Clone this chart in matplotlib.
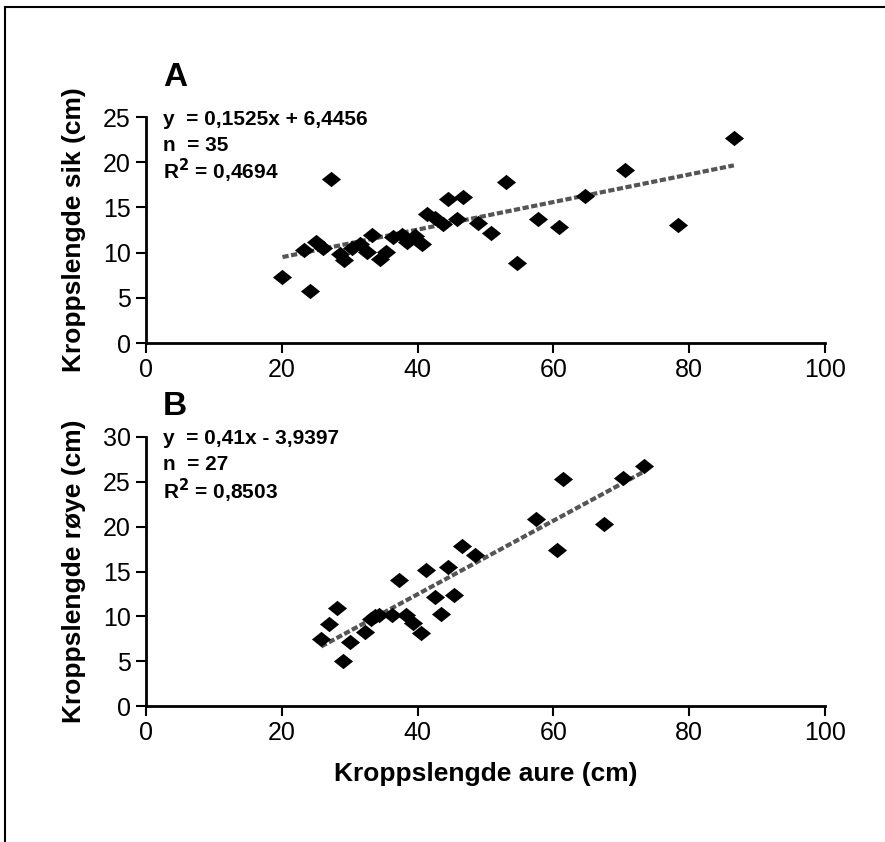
import matplotlib
matplotlib.use("Agg")
import matplotlib.pyplot as plt
from matplotlib.lines import Line2D

plt.rcParams['font.family'] = ['Liberation Sans', 'DejaVu Sans']

# panel A: aure vs sik
a_x = [20.1, 23.2, 24.2, 25.1, 26.0, 27.2, 28.6, 29.1, 30.3, 31.5, 32.5, 33.3,
       34.5, 35.4, 36.4, 37.7, 38.4, 39.6, 40.7, 41.4, 42.6, 43.8, 44.5, 45.8,
       46.7, 48.9, 50.8, 53.0, 54.7, 57.7, 60.8, 64.7, 70.5, 78.3, 86.6]
a_y = [7.3, 10.3, 5.8, 11.2, 10.5, 18.2, 9.9, 9.2, 10.5, 11.0, 10.1, 11.9,
       9.3, 10.1, 11.7, 11.9, 11.2, 11.8, 11.0, 14.3, 13.8, 13.2, 15.9, 13.7,
       16.2, 13.3, 12.2, 17.8, 8.8, 13.7, 12.8, 16.3, 19.1, 13.1, 22.7]
a_fit = (0.1525, 6.4456)
a_text = ["y  = 0,1525x + 6,4456", "n  = 35", "R$^\\mathbf{2}$ = 0,4694"]

# panel B: aure vs røye
b_x = [25.8, 26.9, 28.1, 29.0, 30.0, 32.2, 33.2, 34.3, 33.8, 36.2, 37.3, 38.3,
       39.3, 40.5, 41.3, 42.5, 43.5, 44.5, 45.4, 46.6, 48.5, 57.5, 60.5, 61.5,
       67.4, 70.3, 73.3]
b_y = [7.5, 9.2, 10.9, 5.0, 7.1, 8.3, 9.7, 10.1, 10.0, 10.1, 14.1, 10.1,
       9.3, 8.1, 15.2, 12.2, 10.3, 15.5, 12.4, 17.9, 16.8, 20.9, 17.4, 25.3,
       20.3, 25.4, 26.8]
b_fit = (0.41, -3.9397)
b_text = ["y  = 0,41x - 3,9397", "n  = 27", "R$^\\mathbf{2}$ = 0,8503"]

x_ticks = [0, 20, 40, 60, 80, 100]

diamond = [(-1, 0), (0, 0.8), (1, 0), (0, -0.8)]

fig = plt.figure(figsize=(8.85, 8.42), dpi=100)
ax_a = fig.add_axes([0.165, 0.5926, 0.767, 0.2684])
ax_b = fig.add_axes([0.165, 0.1615, 0.767, 0.3195])


def style_panel(ax, xs, ys, fit, lines, ymax, ylabel, letter, letter_off):
    ax.scatter(xs, ys, marker=diamond, s=190, color='black', zorder=3, linewidths=0)
    x0, x1 = min(xs), max(xs)
    ax.plot([x0, x1], [fit[0] * x0 + fit[1], fit[0] * x1 + fit[1]],
            color='#555555', lw=3, ls=(0, (1.5, 0.6)), zorder=2)
    ax.set_xlim(0, 100)
    ax.set_ylim(0, ymax)
    ax.set_xticks(x_ticks)
    ax.set_yticks(range(0, ymax + 1, 5))
    for s in ['top', 'right']:
        ax.spines[s].set_visible(False)
    for s in ['left', 'bottom']:
        ax.spines[s].set_linewidth(2)
    ax.tick_params(direction='out', length=7, width=1.5, labelsize=18, pad=4)
    ax.set_ylabel(ylabel, fontsize=19, fontweight='bold')
    ax.yaxis.set_label_coords(-0.088, 0.5)
    h = ax.get_position().height * 842
    for i, t in enumerate(lines):
        ax.text(0.025, 1.0 - (i * 26 + 2) / h, t, transform=ax.transAxes,
                fontsize=15, fontweight='bold', va='center', ha='left')
    ax.text(0.025, 1.0 + letter_off / h, letter,
            transform=ax.transAxes, fontsize=24, fontweight='bold',
            va='center', ha='left')


style_panel(ax_a, a_x, a_y, a_fit, a_text, 25, "Kroppslengde sik (cm)", "A", 40)
style_panel(ax_b, b_x, b_y, b_fit, b_text, 30, "Kroppslengde røye (cm)", "B", 30)
ax_b.set_xlabel("Kroppslengde aure (cm)", fontsize=19, fontweight='bold', labelpad=12)

# outer frame (only top and left edges visible in the cut-out)
fig.add_artist(Line2D([5 / 885, 5 / 885], [0, 1 - 7 / 842], transform=fig.transFigure,
                      color='black', lw=1.5))
fig.add_artist(Line2D([5 / 885, 1], [1 - 7 / 842, 1 - 7 / 842], transform=fig.transFigure,
                      color='black', lw=1.5))

fig.savefig("out.png", dpi=100, facecolor='white')
